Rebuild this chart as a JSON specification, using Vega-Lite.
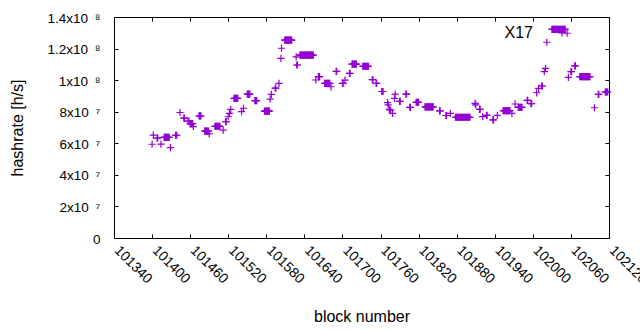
{
"$schema": "https://vega.github.io/schema/vega-lite/v6.json",
"width": 495, "height": 221,
"autosize": "none",
"padding": {"left": 114, "top": 17, "right": 31, "bottom": 92},
"config": {
  "view": {"stroke": "black", "strokeWidth": 1},
  "font": "Liberation Sans",
  "axis": {"domain": false, "grid": false, "tickColor": "black", "tickWidth": 1, "labelColor": "black", "titleColor": "black", "titleFontWeight": "normal", "titleFont": "Liberation Sans", "labelFont": "Liberation Sans"}
},
"data": {"values": [
{"b":101400,"h":5.94e7},{"b":101402,"h":6.52e7},{"b":101408,"h":6.33e7},{"b":101409,"h":6.33e7},{"b":101414,"h":5.95e7},
{"b":101419,"h":6.38e7},{"b":101420,"h":6.38e7},{"b":101421,"h":6.38e7},{"b":101422,"h":6.38e7},{"b":101423,"h":6.38e7},{"b":101424,"h":6.38e7},{"b":101425,"h":6.38e7},{"b":101426,"h":6.38e7},{"b":101427,"h":6.38e7},
{"b":101429,"h":5.72e7},{"b":101437,"h":6.51e7},{"b":101438,"h":6.51e7},{"b":101439,"h":6.51e7},{"b":101444,"h":7.95e7},
{"b":101450,"h":7.6e7},{"b":101451,"h":7.6e7},{"b":101457,"h":7.41e7},{"b":101458,"h":7.41e7},
{"b":101460,"h":7.24e7},{"b":101461,"h":7.24e7},{"b":101462,"h":7.24e7},{"b":101463,"h":7.24e7},{"b":101464,"h":7.24e7},{"b":101465,"h":7.05e7},
{"b":101474,"h":7.73e7},{"b":101475,"h":7.73e7},{"b":101476,"h":7.73e7},{"b":101477,"h":7.73e7},
{"b":101483,"h":6.77e7},{"b":101484,"h":6.77e7},{"b":101485,"h":6.77e7},{"b":101486,"h":6.77e7},{"b":101487,"h":6.77e7},{"b":101488,"h":6.77e7},{"b":101489,"h":6.77e7},{"b":101490,"h":6.59e7},
{"b":101499,"h":7.08e7},{"b":101500,"h":7.08e7},{"b":101501,"h":7.08e7},{"b":101502,"h":7.08e7},{"b":101503,"h":7.08e7},{"b":101504,"h":7.08e7},{"b":101505,"h":7.08e7},{"b":101506,"h":7.08e7},{"b":101507,"h":7.08e7},
{"b":101512,"h":6.84e7},{"b":101516,"h":7.37e7},{"b":101517,"h":7.37e7},{"b":101520,"h":7.68e7},{"b":101522,"h":7.9e7},{"b":101524,"h":8.15e7},
{"b":101529,"h":8.85e7},{"b":101530,"h":8.85e7},{"b":101531,"h":8.85e7},{"b":101532,"h":8.85e7},{"b":101533,"h":8.85e7},{"b":101534,"h":8.85e7},{"b":101535,"h":8.85e7},
{"b":101541,"h":8.0e7},{"b":101544,"h":8.22e7},
{"b":101550,"h":9.12e7},{"b":101551,"h":9.12e7},{"b":101552,"h":9.12e7},{"b":101553,"h":9.12e7},{"b":101554,"h":9.12e7},
{"b":101562,"h":8.7e7},{"b":101563,"h":8.7e7},{"b":101564,"h":8.7e7},{"b":101565,"h":8.7e7},
{"b":101577,"h":8.04e7},{"b":101578,"h":8.04e7},{"b":101579,"h":8.04e7},{"b":101580,"h":8.04e7},{"b":101581,"h":8.04e7},{"b":101582,"h":8.04e7},{"b":101583,"h":8.04e7},{"b":101584,"h":8.04e7},{"b":101585,"h":8.04e7},
{"b":101586,"h":8.8e7},{"b":101588,"h":9.1e7},{"b":101594,"h":9.5e7},{"b":101595,"h":9.5e7},{"b":101600,"h":9.8e7},
{"b":101603,"h":1.138e8},{"b":101604,"h":1.202e8},
{"b":101609,"h":1.254e8},{"b":101610,"h":1.254e8},{"b":101611,"h":1.254e8},{"b":101612,"h":1.254e8},{"b":101613,"h":1.254e8},{"b":101614,"h":1.254e8},{"b":101615,"h":1.254e8},{"b":101616,"h":1.254e8},{"b":101617,"h":1.254e8},{"b":101618,"h":1.254e8},{"b":101619,"h":1.254e8},{"b":101620,"h":1.254e8},
{"b":101627,"h":1.148e8},{"b":101628,"h":1.096e8},{"b":101629,"h":1.096e8},
{"b":101633,"h":1.159e8},{"b":101634,"h":1.159e8},{"b":101635,"h":1.159e8},{"b":101636,"h":1.159e8},{"b":101637,"h":1.159e8},{"b":101638,"h":1.159e8},{"b":101639,"h":1.159e8},{"b":101640,"h":1.159e8},{"b":101641,"h":1.159e8},{"b":101642,"h":1.159e8},{"b":101643,"h":1.159e8},{"b":101644,"h":1.159e8},{"b":101645,"h":1.159e8},{"b":101646,"h":1.159e8},{"b":101647,"h":1.159e8},{"b":101648,"h":1.159e8},{"b":101649,"h":1.159e8},{"b":101650,"h":1.159e8},{"b":101651,"h":1.159e8},{"b":101652,"h":1.159e8},{"b":101653,"h":1.159e8},{"b":101654,"h":1.159e8},
{"b":101658,"h":1.001e8},{"b":101662,"h":1.022e8},{"b":101663,"h":1.022e8},{"b":101664,"h":1.022e8},
{"b":101672,"h":9.8e7},{"b":101673,"h":9.8e7},{"b":101674,"h":9.8e7},{"b":101675,"h":9.8e7},{"b":101676,"h":9.8e7},{"b":101677,"h":9.8e7},{"b":101678,"h":9.8e7},{"b":101679,"h":9.8e7},{"b":101680,"h":9.8e7},
{"b":101682,"h":9.58e7},{"b":101690,"h":1.056e8},{"b":101691,"h":1.056e8},
{"b":101700,"h":9.8e7},{"b":101701,"h":9.8e7},{"b":101704,"h":1.0e8},{"b":101711,"h":1.043e8},{"b":101712,"h":1.043e8},
{"b":101715,"h":1.101e8},{"b":101716,"h":1.101e8},{"b":101717,"h":1.101e8},{"b":101718,"h":1.101e8},{"b":101719,"h":1.101e8},{"b":101720,"h":1.101e8},{"b":101721,"h":1.101e8},{"b":101722,"h":1.101e8},
{"b":101732,"h":1.088e8},{"b":101733,"h":1.088e8},{"b":101734,"h":1.088e8},{"b":101735,"h":1.088e8},{"b":101736,"h":1.088e8},{"b":101737,"h":1.088e8},{"b":101738,"h":1.088e8},{"b":101739,"h":1.088e8},{"b":101740,"h":1.088e8},{"b":101741,"h":1.088e8},
{"b":101747,"h":1.003e8},{"b":101748,"h":1.003e8},{"b":101753,"h":9.8e7},{"b":101754,"h":9.8e7},
{"b":101762,"h":9.28e7},{"b":101763,"h":9.28e7},{"b":101764,"h":9.28e7},
{"b":101771,"h":8.57e7},{"b":101772,"h":8.43e7},{"b":101774,"h":8.15e7},{"b":101776,"h":8.1e7},{"b":101779,"h":7.9e7},{"b":101782,"h":8.85e7},{"b":101783,"h":9.12e7},
{"b":101790,"h":8.65e7},{"b":101791,"h":8.65e7},{"b":101800,"h":9.11e7},{"b":101801,"h":9.11e7},{"b":101806,"h":8.28e7},{"b":101807,"h":8.28e7},
{"b":101816,"h":8.6e7},{"b":101817,"h":8.6e7},{"b":101818,"h":8.6e7},{"b":101819,"h":8.6e7},{"b":101820,"h":8.6e7},
{"b":101830,"h":8.3e7},{"b":101831,"h":8.3e7},{"b":101832,"h":8.3e7},{"b":101833,"h":8.3e7},{"b":101834,"h":8.3e7},{"b":101835,"h":8.3e7},{"b":101836,"h":8.3e7},{"b":101837,"h":8.3e7},{"b":101838,"h":8.3e7},{"b":101839,"h":8.3e7},{"b":101840,"h":8.3e7},{"b":101841,"h":8.3e7},{"b":101842,"h":8.3e7},{"b":101843,"h":8.3e7},
{"b":101853,"h":8.05e7},{"b":101854,"h":8.05e7},{"b":101863,"h":7.76e7},{"b":101864,"h":7.76e7},{"b":101870,"h":7.9e7},
{"b":101878,"h":7.65e7},{"b":101879,"h":7.65e7},{"b":101880,"h":7.65e7},{"b":101881,"h":7.65e7},{"b":101882,"h":7.65e7},{"b":101883,"h":7.65e7},{"b":101884,"h":7.65e7},{"b":101885,"h":7.65e7},{"b":101886,"h":7.65e7},{"b":101887,"h":7.65e7},{"b":101888,"h":7.65e7},{"b":101889,"h":7.65e7},{"b":101890,"h":7.65e7},{"b":101891,"h":7.65e7},{"b":101892,"h":7.65e7},{"b":101893,"h":7.65e7},{"b":101894,"h":7.65e7},{"b":101895,"h":7.65e7},{"b":101896,"h":7.65e7},{"b":101897,"h":7.65e7},{"b":101898,"h":7.65e7},{"b":101899,"h":7.65e7},{"b":101900,"h":7.65e7},{"b":101901,"h":7.65e7},
{"b":101909,"h":8.53e7},{"b":101910,"h":8.43e7},{"b":101916,"h":8.15e7},{"b":101917,"h":8.15e7},{"b":101921,"h":7.69e7},
{"b":101927,"h":7.77e7},{"b":101928,"h":7.77e7},{"b":101937,"h":7.48e7},{"b":101938,"h":7.48e7},{"b":101944,"h":7.77e7},
{"b":101953,"h":8.06e7},{"b":101954,"h":8.06e7},{"b":101955,"h":8.06e7},{"b":101956,"h":8.06e7},{"b":101957,"h":8.06e7},{"b":101958,"h":8.06e7},{"b":101959,"h":8.06e7},{"b":101960,"h":8.06e7},{"b":101961,"h":8.06e7},{"b":101962,"h":8.06e7},{"b":101963,"h":8.06e7},{"b":101964,"h":8.06e7},
{"b":101967,"h":7.9e7},{"b":101972,"h":8.49e7},
{"b":101977,"h":8.28e7},{"b":101978,"h":8.28e7},{"b":101979,"h":8.28e7},{"b":101980,"h":8.28e7},{"b":101981,"h":8.28e7},{"b":101982,"h":8.28e7},{"b":101983,"h":8.28e7},
{"b":101991,"h":8.72e7},{"b":101992,"h":8.72e7},{"b":101997,"h":8.51e7},{"b":101998,"h":8.51e7},
{"b":102006,"h":9.2e7},{"b":102009,"h":9.48e7},{"b":102014,"h":9.63e7},{"b":102015,"h":9.63e7},
{"b":102018,"h":1.054e8},{"b":102020,"h":1.075e8},{"b":102022,"h":1.24e8},
{"b":102030,"h":1.322e8},{"b":102031,"h":1.322e8},{"b":102032,"h":1.322e8},{"b":102033,"h":1.322e8},{"b":102034,"h":1.322e8},{"b":102035,"h":1.322e8},{"b":102036,"h":1.322e8},{"b":102037,"h":1.322e8},{"b":102038,"h":1.322e8},{"b":102039,"h":1.322e8},{"b":102040,"h":1.322e8},{"b":102041,"h":1.322e8},{"b":102042,"h":1.322e8},{"b":102043,"h":1.322e8},{"b":102044,"h":1.322e8},{"b":102045,"h":1.322e8},{"b":102046,"h":1.322e8},{"b":102047,"h":1.322e8},{"b":102048,"h":1.322e8},{"b":102049,"h":1.322e8},{"b":102050,"h":1.322e8},{"b":102051,"h":1.322e8},
{"b":102054,"h":1.297e8},{"b":102056,"h":1.018e8},{"b":102060,"h":1.054e8},{"b":102061,"h":1.054e8},{"b":102066,"h":1.09e8},{"b":102067,"h":1.09e8},
{"b":102074,"h":1.022e8},{"b":102075,"h":1.022e8},{"b":102076,"h":1.022e8},{"b":102077,"h":1.022e8},{"b":102078,"h":1.022e8},{"b":102079,"h":1.022e8},{"b":102080,"h":1.022e8},{"b":102081,"h":1.022e8},{"b":102082,"h":1.022e8},{"b":102083,"h":1.022e8},{"b":102084,"h":1.022e8},{"b":102085,"h":1.022e8},{"b":102086,"h":1.022e8},{"b":102087,"h":1.022e8},{"b":102088,"h":1.022e8},{"b":102089,"h":1.022e8},{"b":102090,"h":1.022e8},
{"b":102097,"h":8.25e7},{"b":102103,"h":9.1e7},{"b":102104,"h":9.1e7},
{"b":102114,"h":9.25e7},{"b":102115,"h":9.25e7},{"b":102116,"h":9.25e7},{"b":102117,"h":9.25e7},{"b":102118,"h":9.25e7}
]},
"layer": [
  {
    "mark": {"type": "point", "shape": "M-1,0H1M0,-1V1", "size": 52, "filled": false, "strokeWidth": 1.2, "opacity": 1},
    "encoding": {
      "x": {"field": "b", "type": "quantitative",
        "scale": {"domain": [101340, 102120], "nice": false, "zero": false},
        "axis": {"orient": "bottom", "values": [101340,101400,101460,101520,101580,101640,101700,101760,101820,101880,101940,102000,102060,102120],
          "format": "d", "labelAngle": 45, "labelAlign": "left", "labelBaseline": "middle", "labelFontSize": 14, "labelPadding": 14, "labelOffset": 2,
          "tickSize": -4, "labelFlush": false, "labelOverlap": false, "labelBound": false,
          "title": "block number", "titleFontSize": 16, "titlePadding": 23}},
      "y": {"field": "h", "type": "quantitative",
        "scale": {"domain": [0, 140000000], "nice": false},
        "axis": {"orient": "left", "values": [0,20000000,40000000,60000000,80000000,100000000,120000000,140000000],
          "labelExpr": "datum.value==0?'0':(datum.value<1e8?format(datum.value/1e7,'d')+'x10\u2002⁷':format(datum.value/1e8,'.1~f')+'x10\u2002⁸')",
          "labelFontSize": 13.5, "labelPadding": 18, "tickSize": -4, "labelFlush": false, "labelOverlap": false, "labelOffset": 1,
          "title": "hashrate [h/s]", "titleFontSize": 16, "titlePadding": 22}},
      "color": {"datum": "X17", "scale": {"range": ["#9400d3"]},
        "legend": {"orient": "none", "legendX": 440, "legendY": 8, "title": null,
          "symbolType": "M-1,0H1M0,-1V1", "symbolSize": 52, "symbolStrokeWidth": 1.2, "symbolStrokeColor": "#9400d3",
          "labelAlign": "right", "labelOffset": -37, "labelFontSize": 16, "labelFont": "Liberation Sans", "labelColor": "black"}}
    }
  },
  {
    "mark": {"type": "point", "opacity": 0},
    "encoding": {
      "x": {"field": "b", "type": "quantitative",
        "axis": {"orient": "top", "values": [101340,101400,101460,101520,101580,101640,101700,101760,101820,101880,101940,102000,102060,102120], "labels": false, "tickSize": -4, "title": null}},
      "y": {"field": "h", "type": "quantitative",
        "axis": {"orient": "right", "values": [0,20000000,40000000,60000000,80000000,100000000,120000000,140000000], "labels": false, "tickSize": -4, "title": null}}
    }
  }
],
"resolve": {"axis": {"x": "independent", "y": "independent"}}
}
